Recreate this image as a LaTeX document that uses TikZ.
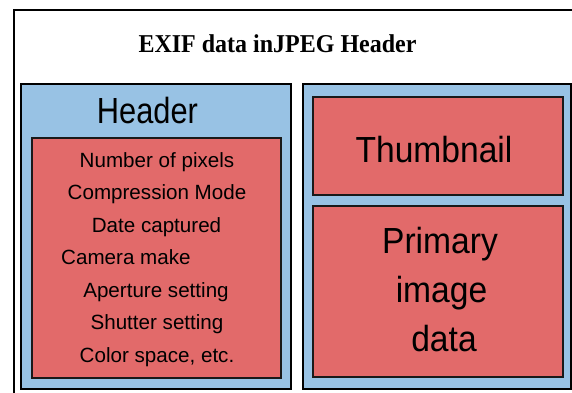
\documentclass[tikz,border=0pt]{standalone}
\usepackage{fontspec}
\setmainfont{Liberation Sans}
\newfontfamily\titlefont{Liberation Serif}
\definecolor{boxblue}{RGB}{152,194,228}
\definecolor{boxred}{RGB}{226,106,106}
\begin{document}
\begin{tikzpicture}[x=1pt,y=-1pt,
  outerbox/.style={draw=black,line width=2pt,fill=boxblue,inner sep=0pt},
  innerbox/.style={draw=black!90,line width=2pt,fill=boxred,inner sep=0pt},
  item/.style={anchor=base,inner sep=0pt,font=\fontsize{20.6}{24}\selectfont},
  big/.style={anchor=base,inner sep=0pt,font=\fontsize{33.6}{40}\selectfont}]
\clip (0,0) rectangle (572,392);
\fill[white] (0,0) rectangle (572,392);
\draw[line width=2.6pt] (14,420) -- (14,10) -- (600,10);
% title
\node[anchor=base,inner sep=0pt,font=\titlefont\bfseries\fontsize{24}{28}\selectfont] (title) at (277.5,52) {\scalebox{1}[1.07]{EXIF data inJPEG Header}};
% left block
\draw[outerbox] (21,84) rectangle (291,389);
\coordinate (leftblk) at (156,236);
\node[anchor=base,inner sep=0pt,font=\fontsize{30.8}{36}\selectfont] (hdr) at (147.5,123) {\scalebox{1}[1.18]{Header}};
\draw[innerbox] (32,138) rectangle (281,378);
\node[item] (i1) at (157,167) {Number of pixels};
\node[item] (i2) at (157,199.5) {Compression Mode};
\node[item] (i3) at (156.5,232) {Date captured};
\node[item,anchor=base west] (i4) at (61,264.5) {Camera make};
\node[item] (i5) at (156,297) {Aperture setting};
\node[item] (i6) at (157,329.5) {Shutter setting};
\node[item] (i7) at (157,362) {Color space, etc.};
% right block
\draw[outerbox] (303,84) rectangle (571,389);
\draw[innerbox] (313,97) rectangle (563,195);
\node[big] (thumb) at (434,162) {\scalebox{1}[1.08]{Thumbnail}};
\draw[innerbox] (313,206) rectangle (563,377);
\node[big] (p1) at (440,253) {\scalebox{1}[1.08]{Primary}};
\node[big] (p2) at (441.5,302) {\scalebox{1}[1.08]{image}};
\node[big] (p3) at (444,351) {\scalebox{1}[1.08]{data}};
\end{tikzpicture}
\end{document}
